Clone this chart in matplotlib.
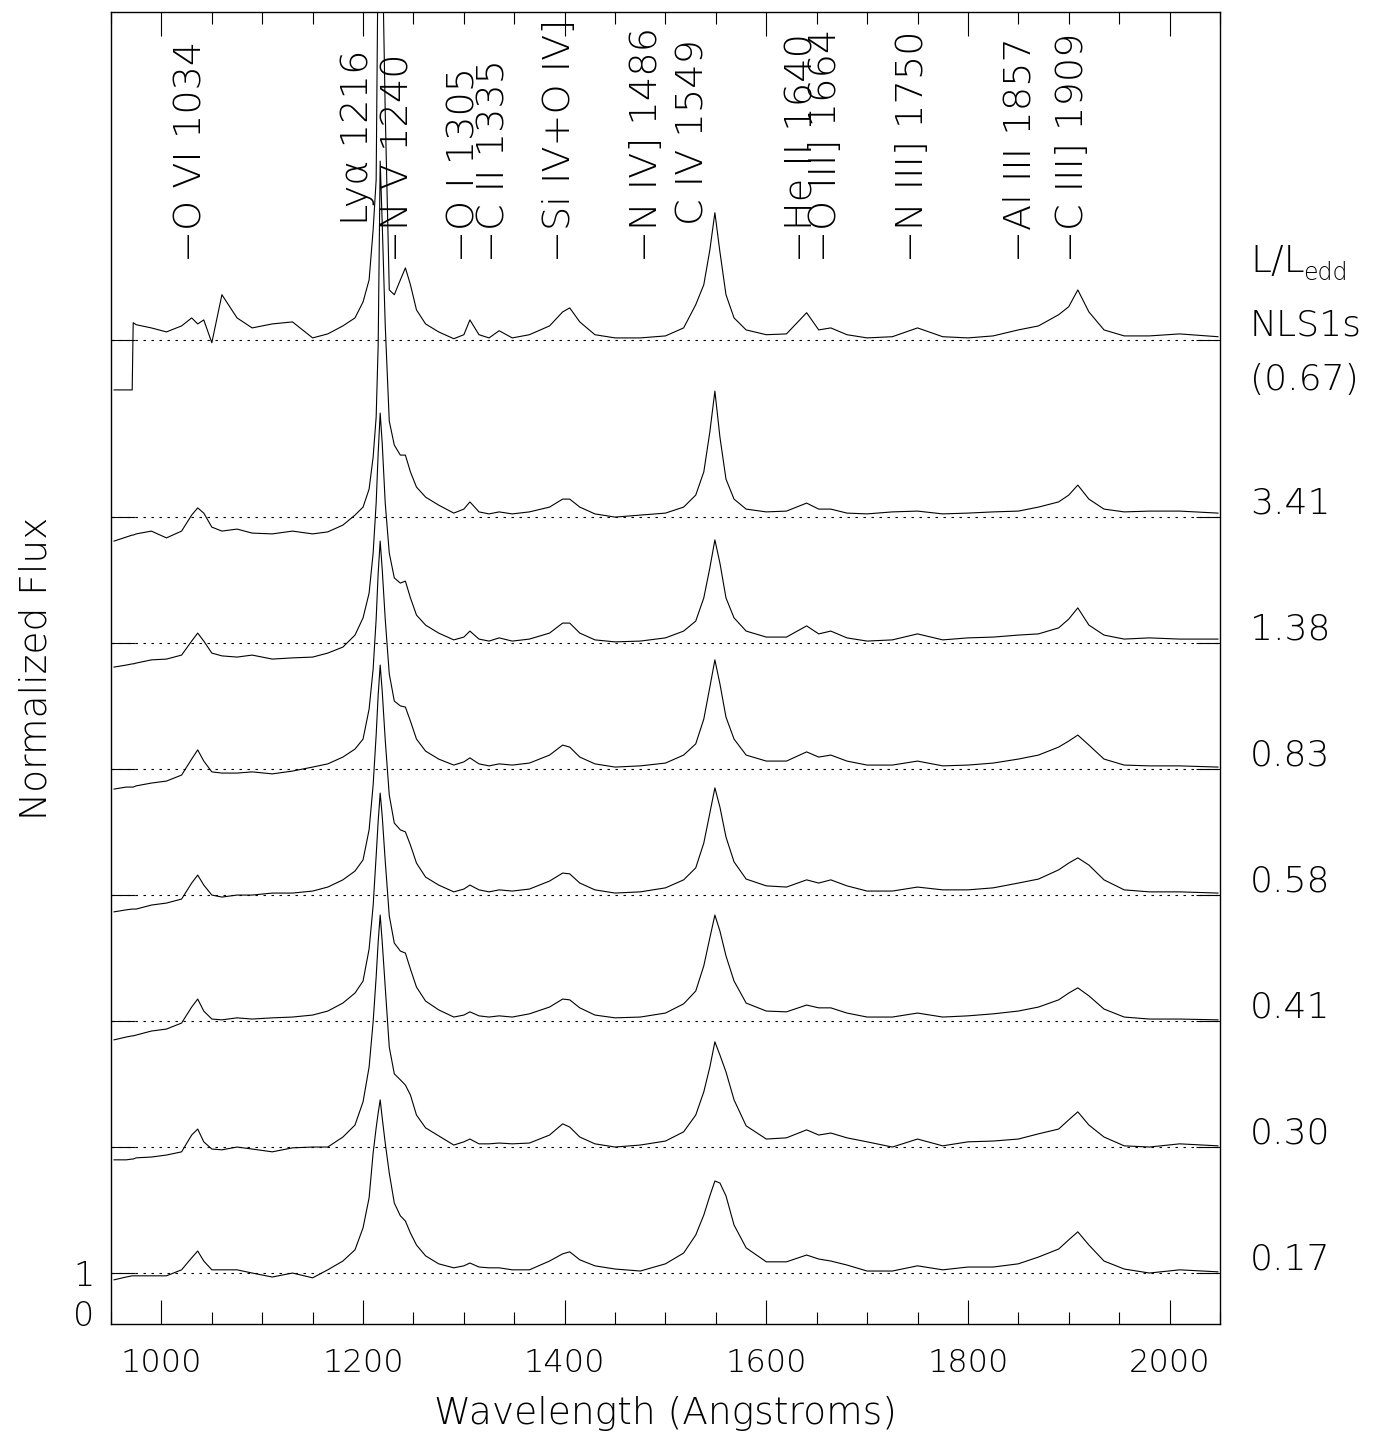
import numpy as np
import matplotlib
matplotlib.use('Agg')
import matplotlib.pyplot as plt
from matplotlib.ticker import MultipleLocator, FixedLocator, FixedFormatter

# composite spectra, normalised so the continuum sits near 1
wave = [953, 965, 971, 972, 975, 990, 1005, 1020, 1030, 1036,
        1042, 1050, 1060, 1075, 1090, 1110, 1130, 1150, 1165, 1180,
        1192, 1200, 1206, 1210, 1213, 1215, 1217, 1219, 1222, 1226,
        1231, 1237, 1242, 1247, 1253, 1262, 1275, 1290, 1300, 1306,
        1315, 1325, 1335, 1348, 1365, 1385, 1398, 1405, 1415, 1430,
        1450, 1475, 1500, 1518, 1530, 1538, 1544, 1549, 1554, 1560,
        1568, 1580, 1600, 1620, 1640, 1652, 1664, 1680, 1700, 1725,
        1750, 1775, 1800, 1825, 1850, 1870, 1890, 1900, 1909, 1920,
        1935, 1955, 1980, 2010, 2048]

flux_nls1 = [-0.25, -0.25, -0.25, 1.43, 1.38, 1.30, 1.20, 1.35, 1.55, 1.40,
             1.50, 0.93, 2.13, 1.55, 1.30, 1.40, 1.45, 1.05, 1.15, 1.35,
             1.55, 1.95, 2.50, 3.75, 5.00, 11.0, 11.0, 11.0, 6.70, 2.25,
             2.13, 2.50, 2.80, 2.38, 1.75, 1.40, 1.20, 1.03, 1.13, 1.50,
             1.13, 1.05, 1.23, 1.05, 1.13, 1.35, 1.70, 1.80, 1.45, 1.13,
             1.05, 1.05, 1.10, 1.30, 1.88, 2.38, 3.25, 4.18, 3.20, 2.13,
             1.55, 1.25, 1.13, 1.15, 1.68, 1.25, 1.30, 1.13, 1.05, 1.08,
             1.30, 1.08, 1.05, 1.10, 1.25, 1.35, 1.63, 1.83, 2.25, 1.70,
             1.25, 1.10, 1.10, 1.15, 1.08]

flux_341 = [0.40, 0.50, 0.55, 0.55, 0.58, 0.65, 0.48, 0.65, 1.05, 1.23,
            1.10, 0.75, 0.65, 0.70, 0.60, 0.58, 0.65, 0.58, 0.63, 0.80,
            1.05, 1.25, 1.70, 2.50, 3.50, 5.30, 9.90, 8.35, 5.80, 3.40,
            2.80, 2.55, 2.55, 2.13, 1.75, 1.50, 1.30, 1.10, 1.20, 1.38,
            1.13, 1.08, 1.13, 1.08, 1.13, 1.25, 1.45, 1.45, 1.25, 1.08,
            1.00, 1.05, 1.10, 1.25, 1.55, 2.13, 3.13, 4.15, 3.00, 1.95,
            1.45, 1.20, 1.13, 1.15, 1.35, 1.20, 1.20, 1.10, 1.08, 1.13,
            1.15, 1.08, 1.10, 1.13, 1.15, 1.25, 1.38, 1.55, 1.80, 1.45,
            1.20, 1.13, 1.15, 1.15, 1.10]

flux_138 = [0.40, 0.45, 0.48, 0.48, 0.50, 0.58, 0.60, 0.70, 1.05, 1.25,
            1.05, 0.75, 0.68, 0.65, 0.70, 0.60, 0.63, 0.65, 0.75, 0.90,
            1.20, 1.63, 2.25, 3.25, 4.50, 5.75, 6.75, 6.00, 4.50, 3.25,
            2.63, 2.50, 2.55, 2.13, 1.70, 1.45, 1.25, 1.08, 1.15, 1.30,
            1.10, 1.05, 1.13, 1.05, 1.10, 1.25, 1.50, 1.50, 1.25, 1.08,
            1.03, 1.05, 1.13, 1.30, 1.55, 2.13, 2.88, 3.58, 3.00, 2.13,
            1.63, 1.30, 1.15, 1.15, 1.43, 1.23, 1.30, 1.13, 1.05, 1.08,
            1.23, 1.08, 1.13, 1.15, 1.20, 1.23, 1.38, 1.60, 1.88, 1.45,
            1.20, 1.10, 1.13, 1.10, 1.10]

flux_083 = [0.50, 0.55, 0.55, 0.55, 0.58, 0.65, 0.70, 0.85, 1.25, 1.48,
            1.20, 0.93, 0.90, 0.90, 0.93, 0.88, 0.95, 1.05, 1.13, 1.30,
            1.50, 1.75, 2.50, 3.50, 4.75, 5.90, 6.70, 6.00, 4.75, 3.38,
            2.70, 2.58, 2.55, 2.20, 1.75, 1.45, 1.25, 1.10, 1.18, 1.28,
            1.13, 1.08, 1.13, 1.10, 1.15, 1.35, 1.60, 1.55, 1.30, 1.13,
            1.05, 1.08, 1.15, 1.35, 1.63, 2.25, 3.05, 3.73, 3.13, 2.30,
            1.75, 1.35, 1.20, 1.20, 1.43, 1.30, 1.35, 1.20, 1.10, 1.10,
            1.20, 1.08, 1.10, 1.15, 1.25, 1.35, 1.55, 1.70, 1.85, 1.60,
            1.25, 1.10, 1.08, 1.08, 1.05]

flux_058 = [0.58, 0.63, 0.65, 0.65, 0.65, 0.75, 0.80, 0.90, 1.30, 1.50,
            1.25, 1.00, 0.95, 1.00, 1.00, 1.05, 1.05, 1.10, 1.20, 1.38,
            1.60, 1.88, 2.63, 3.75, 5.00, 6.00, 6.75, 6.10, 4.88, 3.50,
            2.80, 2.63, 2.58, 2.25, 1.80, 1.45, 1.25, 1.08, 1.15, 1.25,
            1.13, 1.08, 1.13, 1.10, 1.15, 1.35, 1.55, 1.53, 1.30, 1.13,
            1.05, 1.08, 1.18, 1.38, 1.68, 2.30, 3.05, 3.68, 3.20, 2.45,
            1.83, 1.40, 1.23, 1.20, 1.38, 1.30, 1.38, 1.23, 1.10, 1.10,
            1.20, 1.13, 1.13, 1.18, 1.30, 1.40, 1.63, 1.80, 1.93, 1.75,
            1.38, 1.13, 1.08, 1.08, 1.05]

flux_041 = [0.53, 0.60, 0.63, 0.63, 0.65, 0.75, 0.80, 0.95, 1.35, 1.55,
            1.25, 1.05, 1.03, 1.08, 1.05, 1.08, 1.10, 1.15, 1.25, 1.45,
            1.70, 2.00, 2.80, 3.88, 5.13, 6.00, 6.70, 6.13, 5.00, 3.63,
            2.95, 2.75, 2.70, 2.30, 1.85, 1.50, 1.28, 1.10, 1.15, 1.23,
            1.13, 1.10, 1.13, 1.10, 1.18, 1.35, 1.55, 1.53, 1.33, 1.15,
            1.08, 1.10, 1.20, 1.43, 1.75, 2.38, 3.08, 3.65, 3.25, 2.63,
            2.00, 1.45, 1.25, 1.23, 1.40, 1.33, 1.33, 1.20, 1.10, 1.10,
            1.20, 1.10, 1.13, 1.18, 1.25, 1.35, 1.53, 1.70, 1.83, 1.63,
            1.30, 1.10, 1.05, 1.05, 1.03]

flux_030 = [0.68, 0.68, 0.70, 0.70, 0.73, 0.75, 0.80, 0.88, 1.30, 1.45,
            1.13, 0.95, 0.93, 1.00, 0.95, 0.88, 0.98, 1.00, 1.00, 1.25,
            1.55, 2.13, 3.00, 4.13, 5.25, 6.13, 6.80, 6.13, 5.00, 3.50,
            2.83, 2.68, 2.55, 2.30, 1.80, 1.48, 1.28, 1.05, 1.13, 1.20,
            1.08, 1.08, 1.10, 1.08, 1.10, 1.30, 1.58, 1.50, 1.25, 1.08,
            1.00, 1.05, 1.15, 1.38, 1.80, 2.38, 3.00, 3.63, 3.30, 2.88,
            2.18, 1.53, 1.20, 1.23, 1.43, 1.30, 1.35, 1.23, 1.13, 1.00,
            1.20, 1.03, 1.13, 1.15, 1.20, 1.33, 1.45, 1.68, 1.88, 1.55,
            1.25, 1.03, 1.00, 1.08, 1.03]

flux_017 = [0.83, 0.90, 0.93, 0.93, 0.93, 0.93, 0.93, 1.08, 1.38, 1.55,
            1.30, 1.08, 1.08, 1.08, 1.00, 0.90, 1.00, 0.88, 1.08, 1.30,
            1.58, 2.13, 2.88, 4.00, 4.63, 5.00, 5.33, 4.88, 4.25, 3.50,
            2.75, 2.43, 2.30, 2.00, 1.70, 1.43, 1.23, 1.13, 1.18, 1.25,
            1.15, 1.13, 1.13, 1.08, 1.08, 1.30, 1.48, 1.53, 1.33, 1.18,
            1.10, 1.05, 1.23, 1.50, 1.95, 2.45, 2.93, 3.30, 3.25, 2.93,
            2.20, 1.63, 1.28, 1.28, 1.45, 1.35, 1.30, 1.20, 1.05, 1.05,
            1.18, 1.08, 1.15, 1.15, 1.23, 1.40, 1.60, 1.83, 2.03, 1.70,
            1.30, 1.10, 1.00, 1.08, 1.03]

spectra = [flux_nls1, flux_341, flux_138, flux_083,
           flux_058, flux_041, flux_030, flux_017]
offsets = [23.33, 18.9, 15.75, 12.6, 9.45, 6.3, 3.15, 0.0]
edd_labels = ['(0.67)', '3.41', '1.38', '0.83', '0.58', '0.41', '0.30', '0.17']

line_names = ['O VI 1034', 'Ly\u03b1 1216', 'N V 1240', 'O I 1305', 'C II 1335',
              'Si IV+O IV]', 'N IV] 1486', 'C IV 1549', 'He II 1640',
              'O III] 1664', 'N III] 1750', 'Al III 1857', 'C III] 1909']
line_waves = [1034, 1216, 1240, 1305, 1335, 1400, 1486, 1549, 1640,
              1664, 1750, 1857, 1909]
line_dash = [True, False, True, True, True, True, True, False, True,
             True, True, True, True]

FONT = dict(family='DejaVu Sans', weight=200)

fig = plt.figure(figsize=(13.86, 14.39), dpi=100)
ax = fig.add_axes([0.0801, 0.0799, 0.8001, 0.9118])

for flux, off in zip(spectra, offsets):
    ax.plot(wave, np.array(flux) + off, color='k', lw=0.8)
    ax.axhline(off + 1, color='k', lw=0.8, ls=(0, (2.2, 5)))

ax.set_xlim(950, 2050)
ax.set_ylim(-0.275, 32.53)

# x axis: ticks inside on both sides
ax.xaxis.set_major_locator(MultipleLocator(200))
ax.xaxis.set_minor_locator(MultipleLocator(50))
ax.tick_params(axis='x', which='major', direction='in', length=17, width=0.8,
               top=True, bottom=True, labelsize=23, pad=17)
ax.tick_params(axis='x', which='minor', direction='in', length=8.6, width=0.8,
               top=True, bottom=True)

# y axis: a tick at every continuum level, only 0 and 1 labelled
levels = sorted(o + 1 for o in offsets)
ax.yaxis.set_major_locator(FixedLocator(levels))
ax.yaxis.set_major_formatter(FixedFormatter(['1'] + [''] * (len(levels) - 1)))
ax.yaxis.set_minor_locator(FixedLocator([0]))
ax.yaxis.set_minor_formatter(FixedFormatter(['0']))
ax.tick_params(axis='y', which='major', direction='in', length=17, width=0.8,
               left=True, right=True, labelsize=24, pad=12)
ax.tick_params(axis='y', which='minor', length=0, labelsize=24, pad=12)

for lab in ax.get_xticklabels() + ax.get_yticklabels() + ax.get_yticklabels(minor=True):
    lab.set_fontfamily(FONT['family'])
    lab.set_fontweight(FONT['weight'])

for sp in ax.spines.values():
    sp.set_linewidth(1.0)

ax.set_xlabel('Wavelength (Angstroms)', fontsize=27, **FONT)
ax.set_ylabel('Normalized Flux', fontsize=27, **FONT)
ax.xaxis.set_label_coords(0.5, -0.055)
ax.yaxis.set_label_coords(-0.052, 0.5)

# emission line identifications along the top
for name, lw_, dash in zip(line_names, line_waves, line_dash):
    txt = ('\u2212' + name) if dash else name
    x = lw_ - 5 if dash else lw_ - 22
    y = 26.28 if dash else 27.2
    ax.text(x, y, txt, rotation=90, rotation_mode='anchor', ha='left',
            va='center', fontsize=27.5, **FONT)

# Eddington ratio of each composite on the right
tr = ax.get_yaxis_transform()
ax.text(1.027, 26.3, 'L/L', transform=tr, ha='left', va='center',
        fontsize=27, **FONT)
ax.text(1.075, 26.0, 'edd', transform=tr, ha='left', va='center',
        fontsize=17, **FONT)
ax.text(1.027, offsets[0] + 1.37, 'NLS1s', transform=tr, ha='left',
        va='center', fontsize=26, **FONT)
for lab, off in zip(edd_labels, offsets):
    y = off if lab.startswith('(') else off + 1.35
    ax.text(1.027, y, lab, transform=tr, ha='left', va='center',
            fontsize=26, **FONT)

fig.savefig('out.png', dpi=100)
